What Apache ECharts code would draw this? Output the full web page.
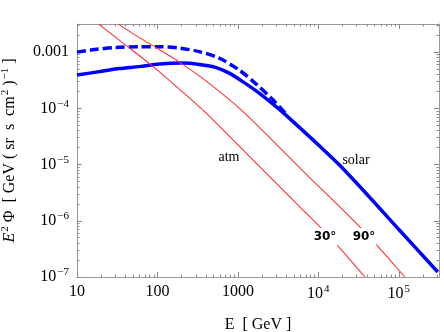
<!DOCTYPE html>
<html>
<head>
<meta charset="utf-8">
<script src="https://cdn.jsdelivr.net/npm/echarts@6/dist/echarts.min.js"></script>
<style>
html,body{margin:0;padding:0;background:#fff;}
#c{width:444px;height:332px;}
</style>
</head>
<body>
<div id="c"></div>
<script>
// Energies (GeV) and E^2 Phi values
var solarE   = [10, 19.0, 33.7, 59.6, 105.6, 204, 331, 538, 780, 1197, 1837, 3253, 5763, 10210, 18070, 42560, 100300, 305500];
var solarVal = [3.90e-4, 4.50e-4, 5.09e-4, 5.52e-4, 6.12e-4, 6.37e-4, 6.00e-4, 5.30e-4, 4.23e-4, 2.87e-4, 1.87e-4, 9.70e-5, 4.64e-5, 2.18e-5, 1.0e-5, 2.70e-6, 6.98e-7, 1.23e-7];
var solarDashE   = [10, 16.5, 29.2, 59.6, 105.6, 187, 331, 586, 1038, 1687, 2664, 4090];
var solarDashVal = [1.0e-3, 1.11e-3, 1.20e-3, 1.25e-3, 1.25e-3, 1.18e-3, 1.02e-3, 7.82e-4, 4.79e-4, 2.70e-4, 1.46e-4, 7.59e-5];
var atm30E   = [18.5, 38.8, 84, 187, 404, 1038, 2664, 5763, 11780, 18070, 37950];
var atm30Val = [3.15e-3, 1.39e-3, 5.87e-4, 2.20e-4, 8.24e-5, 2.13e-5, 5.52e-6, 1.83e-6, 6.58e-7, 3.41e-7, 1.0e-7];
var atm90E   = [32.7, 59.6, 105.6, 204, 404, 1038, 2664, 7036, 18070, 36900, 52000, 119100];
var atm90Val = [3.15e-3, 1.81e-3, 1.11e-3, 6.12e-4, 3.05e-4, 1.01e-4, 2.73e-5, 6.78e-6, 1.83e-6, 6.58e-7, 3.86e-7, 1.0e-7];

var xTicks = [10, 100, 1000, 1e4, 1e5];
var yTicks = [1e-7, 1e-6, 1e-5, 1e-4, 1e-3];
var xMin = 10, xMax = 316228, yMin = 1e-7, yMax = 0.0031623;

function zip(a, b) { return a.map(function (v, i) { return [v, b[i]]; }); }
function minors(decades, lo, hi) {
  var out = [];
  decades.forEach(function (d) {
    for (var k = 2; k <= 9; k++) { var v = d * k; if (v > lo && v < hi) out.push(v); }
  });
  return out;
}
var xMinor = minors(xTicks, xMin, xMax);
var yMinor = minors(yTicks, yMin, yMax);

var serif = '"Liberation Serif", "DejaVu Serif", serif';
var tickColor = '#8a8a8a';
var rich = {
  b: { fontFamily: serif, fontSize: 16, color: '#000' },
  s: { fontFamily: serif, fontSize: 11, color: '#000', padding: [0, 0, 9, 1] }
};
function xFmt(v) {
  var e = Math.round(Math.log10(v));
  if (e <= 3) return '{b|' + Math.pow(10, e) + '}';
  return '{b|10}{s|' + e + '}';
}
function yFmt(v) {
  var e = Math.round(Math.log10(v));
  if (e === -3) return '{b|0.001}';
  return '{b|10}{s|\u2212' + (-e) + '}';
}
function mkX(pos, values, len, showLine, labels) {
  return {
    type: 'log', logBase: 10, min: xMin, max: xMax, position: pos, gridIndex: 0,
    axisLine: { show: showLine, onZero: false, lineStyle: { color: '#999', width: 1 } },
    axisTick: { show: true, inside: true, length: len, customValues: values, lineStyle: { color: tickColor } },
    axisLabel: labels ? { show: true, customValues: values, formatter: xFmt, rich: rich, margin: 7 } : { show: false },
    splitLine: { show: false }, minorTick: { show: false }
  };
}
function mkY(pos, values, len, showLine, labels) {
  return {
    type: 'log', logBase: 10, min: yMin, max: yMax, position: pos, gridIndex: 0,
    axisLine: { show: showLine, onZero: false, lineStyle: { color: '#999', width: 1 } },
    axisTick: { show: true, inside: true, length: len, customValues: values, lineStyle: { color: tickColor } },
    axisLabel: labels ? { show: true, customValues: values, formatter: yFmt, rich: rich, margin: 8 } : { show: false },
    splitLine: { show: false }, minorTick: { show: false }
  };
}

var xAxes = [mkX('bottom', xTicks, 5, true, true), mkX('top', xTicks, 5, true, false),
             mkX('bottom', xMinor, 2.5, false, false), mkX('top', xMinor, 2.5, false, false)];
xAxes[0].name = 'E  [ GeV ]';
xAxes[0].nameLocation = 'middle';
xAxes[0].nameGap = 40;
xAxes[0].nameTextStyle = { fontFamily: serif, fontSize: 16, color: '#000' };

var yAxes = [mkY('left', yTicks, 5, true, true), mkY('right', yTicks, 5, true, false),
             mkY('left', yMinor, 2.5, false, false), mkY('right', yMinor, 2.5, false, false)];
yAxes[0].name = '{i|E}{s|2}{n| \u03A6  [ GeV ( sr  s  cm}{s|2}{n| )}{s|\u22121}{n| ]}';
yAxes[0].nameLocation = 'middle';
yAxes[0].nameRotate = 90;
yAxes[0].nameGap = 57;
yAxes[0].nameTextStyle = {
  rich: {
    i: { fontFamily: serif, fontSize: 16, fontStyle: 'italic', color: '#000' },
    n: { fontFamily: serif, fontSize: 16, color: '#000' },
    s: { fontFamily: serif, fontSize: 11, color: '#000', padding: [0, 0, 9, 1] }
  }
};

function line(name, data, color, width, type, z) {
  return {
    name: name, type: 'line', data: data, xAxisIndex: 0, yAxisIndex: 0,
    showSymbol: false, symbol: 'none', smooth: 0.3, clip: true, z: z,
    lineStyle: { color: color, width: width, type: type }
  };
}

var chart = echarts.init(document.getElementById('c'), null, { renderer: 'canvas' });
chart.setOption({
  animation: false,
  backgroundColor: '#fff',
  grid: { left: 77, right: 5, top: 24, bottom: 55, outerBoundsMode: 'none', containLabel: false },
  xAxis: xAxes,
  yAxis: yAxes,
  series: [
    line('solar', zip(solarE, solarVal), '#0000ff', 3.5, 'solid', 2),
    line('solar dashed', zip(solarDashE, solarDashVal), '#0000ff', 3.5, [9, 4], 2),
    line('atm 30', zip(atm30E, atm30Val), '#ff3030', 1.1, 'solid', 3),
    line('atm 90', zip(atm90E, atm90Val), '#ff3030', 1.1, 'solid', 3)
  ],
  graphic: [
    { type: 'text', z: 100, x: 229, y: 157, style: { text: 'atm', font: '14px ' + serif, fill: '#000', align: 'center', verticalAlign: 'middle' } },
    { type: 'text', z: 100, x: 356, y: 160, style: { text: 'solar', font: '14px ' + serif, fill: '#000', align: 'center', verticalAlign: 'middle' } },
    { type: 'text', z: 100, x: 325, y: 237, style: { text: '30\u00B0', font: 'bold 12px "DejaVu Sans", sans-serif', fill: '#000', align: 'center', verticalAlign: 'middle', backgroundColor: '#fff', padding: [3, 1] } },
    { type: 'text', z: 100, x: 364, y: 237, style: { text: '90\u00B0', font: 'bold 12px "DejaVu Sans", sans-serif', fill: '#000', align: 'center', verticalAlign: 'middle', backgroundColor: '#fff', padding: [3, 1] } }
  ]
});
</script>
</body>
</html>
